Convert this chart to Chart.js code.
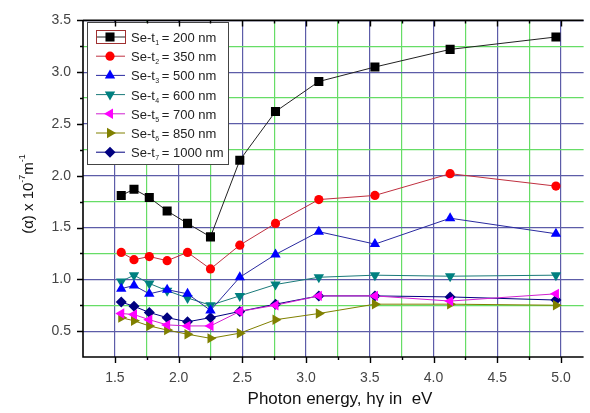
<!DOCTYPE html>
<html>
<head>
<meta charset="utf-8">
<title>Absorption coefficient vs photon energy</title>
<script src="https://cdn.jsdelivr.net/npm/chart.js@4.4.1/dist/chart.umd.min.js"></script>
<style>
  html, body { margin: 0; padding: 0; background: #fff; }
  #wrap { width: 590px; height: 413px; }
</style>
</head>
<body>
<div id="wrap"><canvas id="alphaChart" width="590" height="413"></canvas></div>
<script>
// photon energy (eV) of every measured point
const energy = [1.55, 1.65, 1.77, 1.91, 2.07, 2.25, 2.48, 2.76, 3.10, 3.54, 4.13, 4.96];

// alpha x 10^-7 m^-1, one array per film thickness
const t200  = [1.81, 1.87, 1.79, 1.66, 1.54, 1.41, 2.15, 2.62, 2.91, 3.05, 3.22, 3.34];
const t350  = [1.26, 1.19, 1.22, 1.18, 1.26, 1.10, 1.33, 1.54, 1.77, 1.81, 2.02, 1.90];
const t500  = [0.91, 0.94, 0.86, 0.90, 0.86, 0.70, 1.02, 1.24, 1.46, 1.34, 1.59, 1.44];
const t600  = [0.98, 1.04, 0.96, 0.89, 0.82, 0.75, 0.84, 0.95, 1.02, 1.04, 1.03, 1.04];
const t700  = [0.67, 0.66, 0.61, 0.56, 0.55, 0.55, 0.69, 0.75, 0.84, 0.84, 0.79, 0.86];
const t850  = [0.63, 0.60, 0.55, 0.51, 0.47, 0.43, 0.48, 0.61, 0.67, 0.76, 0.76, 0.75];
const t1000 = [0.78, 0.74, 0.68, 0.63, 0.59, 0.63, 0.69, 0.76, 0.84, 0.84, 0.83, 0.80];

const subIndex = ['1', '2', '3', '4', '5', '6', '7'];
const thickness = ['200 nm', '350 nm', '500 nm', '600 nm', '700 nm', '850 nm', '1000 nm'];

const xTickValues = [1.5, 1.75, 2.0, 2.25, 2.5, 2.75, 3.0, 3.25, 3.5, 3.75, 4.0, 4.25, 4.5, 4.75, 5.0];
const yTickValues = [0.5, 0.75, 1.0, 1.25, 1.5, 1.75, 2.0, 2.25, 2.5, 2.75, 3.0, 3.25, 3.5];

const allValues = [t200, t350, t500, t600, t700, t850, t1000];
const colors = ['#000000', '#ff0000', '#0000ff', '#008080', '#ff00ff', '#808000', '#000080'];
const lineColors = ['#222222', '#c03040', '#2a2aa0', '#1a7a7a', '#d020d0', '#808000', '#000080'];
const styles = [
  { pointStyle: 'rect', rotation: 0, radius: 6.4 },
  { pointStyle: 'circle', rotation: 0, radius: 4.6 },
  { pointStyle: 'triangle', rotation: 0, radius: 6 },
  { pointStyle: 'triangle', rotation: 180, radius: 6 },
  { pointStyle: 'triangle', rotation: 270, radius: 6 },
  { pointStyle: 'triangle', rotation: 90, radius: 6 },
  { pointStyle: 'rectRot', rotation: 0, radius: 5.5 }
];

const isMajor = v => Math.abs(v * 2 - Math.round(v * 2)) < 1e-6;
const FONT = '"Liberation Sans", Arial, sans-serif';

const datasets = allValues.map((vals, i) => ({
  label: 'Se-t' + subIndex[i] + ' = ' + thickness[i],
  data: energy.map((e, k) => ({ x: e, y: vals[k] })),
  borderColor: lineColors[i],
  borderWidth: 1,
  backgroundColor: colors[i],
  pointBackgroundColor: colors[i],
  pointBorderColor: colors[i],
  pointBorderWidth: 0,
  pointStyle: styles[i].pointStyle,
  pointRotation: styles[i].rotation,
  pointRadius: styles[i].radius,
  pointHoverRadius: styles[i].radius,
  tension: 0
}));

function drawLegend(ctx) {
  ctx.save();
  ctx.fillStyle = '#fff';
  ctx.fillRect(87, 22, 141, 142);
  ctx.strokeStyle = '#444';
  ctx.lineWidth = 1;
  ctx.strokeRect(87.5, 22.5, 141, 142);

  thickness.forEach((name, i) => {
    const yy = 37 + i * 19.2;
    ctx.strokeStyle = lineColors[i];
    ctx.lineWidth = 1;
    ctx.beginPath();
    ctx.moveTo(96, yy);
    ctx.lineTo(125, yy);
    ctx.stroke();

    ctx.fillStyle = colors[i];
    ctx.strokeStyle = colors[i];
    Chart.helpers.drawPoint(ctx, {
      pointStyle: styles[i].pointStyle,
      rotation: styles[i].rotation,
      radius: styles[i].radius,
      borderWidth: 0
    }, 110, yy);

    if (i === 0) {
      // the selected-entry box seen in the original plot
      ctx.strokeStyle = '#a03030';
      ctx.strokeRect(96.5, 30.5, 29, 13);
    }

    ctx.fillStyle = '#222';
    ctx.textBaseline = 'alphabetic';
    ctx.textAlign = 'left';
    ctx.font = '13px ' + FONT;
    ctx.fillText('Se-t', 131, yy + 5);
    let x = 131 + ctx.measureText('Se-t').width;
    ctx.font = '7px ' + FONT;
    ctx.fillText(subIndex[i], x + 0.5, yy + 8);
    x += ctx.measureText(subIndex[i]).width + 3;
    ctx.font = '13px ' + FONT;
    ctx.fillText('= ' + name, x, yy + 5);
  });
  ctx.restore();
}

const framePlugin = {
  id: 'frame',
  beforeDraw(chart) {
    const ctx = chart.ctx;
    ctx.save();
    ctx.fillStyle = '#fff';
    ctx.fillRect(0, 0, chart.width, chart.height);
    ctx.restore();
  },
  afterDatasetsDraw(chart) {
    drawLegend(chart.ctx);
  },
  afterDraw(chart) {
    const { ctx, chartArea: a, scales } = chart;
    const xs = scales.x, ys = scales.y;
    ctx.save();
    ctx.strokeStyle = '#000';
    ctx.lineWidth = 1.6;
    ctx.beginPath();
    ctx.moveTo(a.left, a.top);
    ctx.lineTo(a.right, a.top);
    ctx.moveTo(a.left, a.top);
    ctx.lineTo(a.left, a.bottom);
    ctx.lineTo(a.right, a.bottom);
    ctx.stroke();

    ctx.lineWidth = 1.4;
    ctx.beginPath();
    xTickValues.forEach(v => {
      const px = Math.round(xs.getPixelForValue(v)) + 0.5;
      const len = isMajor(v) ? 6 : 3;
      ctx.moveTo(px, a.bottom);
      ctx.lineTo(px, a.bottom + len);
      ctx.moveTo(px, a.top);
      ctx.lineTo(px, a.top + len);
    });
    yTickValues.forEach(v => {
      const py = Math.round(ys.getPixelForValue(v)) + 0.5;
      const len = isMajor(v) ? 6 : 3;
      ctx.moveTo(a.left, py);
      ctx.lineTo(a.left - len, py);
    });
    ctx.stroke();

    // axis titles
    ctx.fillStyle = '#111';
    ctx.textAlign = 'center';
    ctx.textBaseline = 'middle';
    ctx.font = '17px ' + FONT;
    ctx.fillText('Photon energy, h\u03b3 in  eV', 340, 399);

    ctx.translate(29, 194);
    ctx.rotate(-Math.PI / 2);
    ctx.textAlign = 'left';
    const parts = [
      ['(\u03b1) x 10', 15, 0],
      ['-7', 9, -6],
      ['m', 15, 0],
      ['-1', 9, -6]
    ];
    let total = 0;
    parts.forEach(p => { ctx.font = p[1] + 'px ' + FONT; total += ctx.measureText(p[0]).width; });
    let x = -total / 2;
    parts.forEach(p => {
      ctx.font = p[1] + 'px ' + FONT;
      ctx.fillText(p[0], x, p[2]);
      x += ctx.measureText(p[0]).width;
    });
    ctx.restore();
  }
};

const ctx = document.getElementById('alphaChart').getContext('2d');
new Chart(ctx, {
  type: 'line',
  data: { datasets: datasets },
  plugins: [framePlugin],
  options: {
    responsive: false,
    animation: false,
    layout: { padding: { top: 16, right: 0, left: 0, bottom: 0 } },
    plugins: {
      legend: { display: false },
      tooltip: { enabled: false }
    },
    scales: {
      x: {
        type: 'linear',
        min: 1.25,
        max: 5.177,
        afterBuildTicks: s => { s.ticks = xTickValues.map(v => ({ value: v })); },
        afterFit: s => { s.height = 56; },
        border: { display: false },
        grid: {
          drawTicks: false,
          lineWidth: 1.2,
          color: c => (c.tick && isMajor(c.tick.value)) ? '#5c5ca8' : '#66dd66'
        },
        ticks: {
          autoSkip: false,
          maxRotation: 0,
          padding: 13,
          color: '#444',
          font: { family: FONT, size: 14 },
          callback: v => isMajor(v) ? v.toFixed(1) : ''
        }
      },
      y: {
        type: 'linear',
        min: 0.25,
        max: 3.5,
        afterBuildTicks: s => { s.ticks = yTickValues.map(v => ({ value: v })); },
        afterFit: s => { s.width = 83; },
        border: { display: false },
        grid: {
          drawTicks: false,
          lineWidth: 1.2,
          color: c => (c.tick && isMajor(c.tick.value)) ? '#5c5ca8' : '#66dd66'
        },
        ticks: {
          padding: 12,
          color: '#444',
          font: { family: FONT, size: 14 },
          callback: v => isMajor(v) ? v.toFixed(1) : ''
        }
      }
    }
  }
});
</script>
</body>
</html>
